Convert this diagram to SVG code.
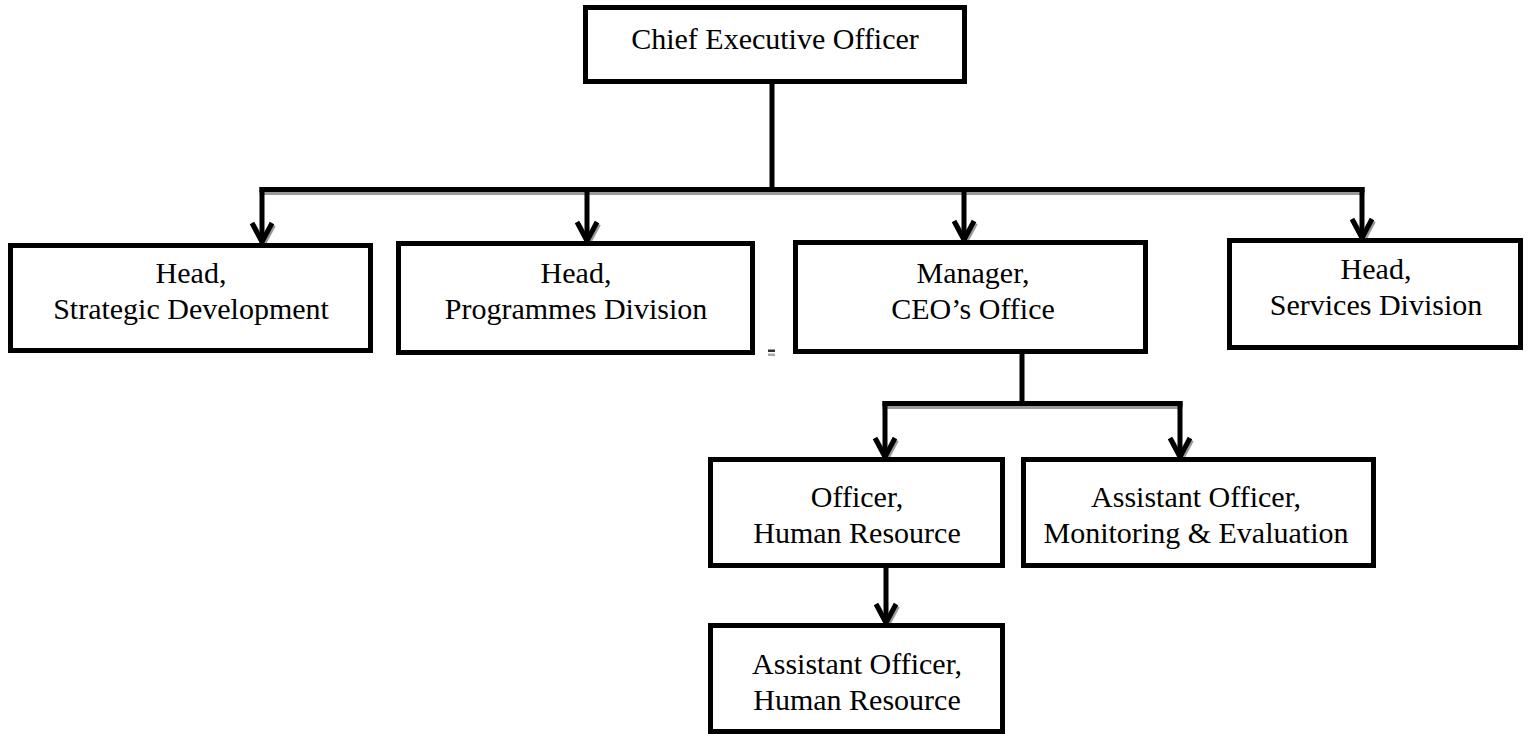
<svg xmlns="http://www.w3.org/2000/svg" width="1530" height="734" viewBox="0 0 1530 734">
<style>
.box{fill:#fff;stroke:#000;stroke-width:5}
.t{font-family:"Liberation Serif","Times New Roman",serif;font-size:30px;fill:#000;text-anchor:middle}
.ln{fill:none;stroke:#000;stroke-width:5;stroke-linecap:square}
.sh{fill:none;stroke:#9a9a9a;stroke-width:5;stroke-linecap:square}
.ah{fill:none;stroke:#000;stroke-width:5;stroke-linejoin:miter}
.ahs{fill:none;stroke:#9a9a9a;stroke-width:5}
</style>
<defs>
<path id="chev" d="M-10,-19 L0,0 L10,-19"/>
</defs>
<rect width="1530" height="734" fill="#fff"/>
<g id="connectors">
<path class="sh" d="M262,192.5 H1362"/>
<path class="sh" d="M885,406.5 H1180"/>
<use href="#chev" class="ahs" x="263.5" y="244"/>
<use href="#chev" class="ahs" x="588.5" y="243"/>
<use href="#chev" class="ahs" x="965.5" y="242"/>
<use href="#chev" class="ahs" x="1363.5" y="240"/>
<use href="#chev" class="ahs" x="886.5" y="459"/>
<use href="#chev" class="ahs" x="1181.5" y="459"/>
<use href="#chev" class="ahs" x="887.5" y="625"/>
<path class="ln" d="M772,84 V189.5"/>
<path class="ln" d="M262,189.5 H1362"/>
<path class="ln" d="M262,189.5 V240"/>
<path class="ln" d="M587,189.5 V239"/>
<path class="ln" d="M964,189.5 V238"/>
<path class="ln" d="M1362,189.5 V236"/>
<use href="#chev" class="ah" x="262" y="242"/>
<use href="#chev" class="ah" x="587" y="241"/>
<use href="#chev" class="ah" x="964" y="240"/>
<use href="#chev" class="ah" x="1362" y="238"/>
<path class="ln" d="M1022,354 V403.5"/>
<path class="ln" d="M885,403.5 H1180"/>
<path class="ln" d="M885,403.5 V455"/>
<path class="ln" d="M1180,403.5 V455"/>
<use href="#chev" class="ah" x="885" y="457"/>
<use href="#chev" class="ah" x="1180" y="457"/>
<path class="ln" d="M886,568 V621"/>
<use href="#chev" class="ah" x="886" y="623"/>
</g>
<rect x="768" y="349.5" width="7" height="2.5" fill="#333"/>
<rect x="768" y="353.5" width="7" height="2.5" fill="#aaa"/>
<g id="ceo">
<rect class="box" x="585.5" y="7.5" width="379" height="74"/>
<text class="t" x="775" y="49">Chief Executive Officer</text>
</g>
<g id="strategic">
<rect class="box" x="10.5" y="245.5" width="360" height="105"/>
<text class="t" x="191" y="283">Head,</text>
<text class="t" x="191" y="319">Strategic Development</text>
</g>
<g id="programmes">
<rect class="box" x="398.5" y="243.5" width="354" height="109"/>
<text class="t" x="576" y="283">Head,</text>
<text class="t" x="576" y="319">Programmes Division</text>
</g>
<g id="manager">
<rect class="box" x="795.5" y="242.5" width="350" height="109"/>
<text class="t" x="973" y="283">Manager,</text>
<text class="t" x="973" y="319">CEO’s Office</text>
</g>
<g id="services">
<rect class="box" x="1229.5" y="240.5" width="291" height="107"/>
<text class="t" x="1376" y="279">Head,</text>
<text class="t" x="1376" y="315">Services Division</text>
</g>
<g id="officer-hr">
<rect class="box" x="710.5" y="459.5" width="292" height="106"/>
<text class="t" x="857" y="507">Officer,</text>
<text class="t" x="857" y="543">Human Resource</text>
</g>
<g id="assistant-me">
<rect class="box" x="1023.5" y="459.5" width="350" height="106"/>
<text class="t" x="1196" y="507">Assistant Officer,</text>
<text class="t" x="1196" y="543">Monitoring &amp; Evaluation</text>
</g>
<g id="assistant-hr">
<rect class="box" x="710.5" y="625.5" width="292" height="106"/>
<text class="t" x="857" y="674">Assistant Officer,</text>
<text class="t" x="857" y="710">Human Resource</text>
</g>
</svg>
